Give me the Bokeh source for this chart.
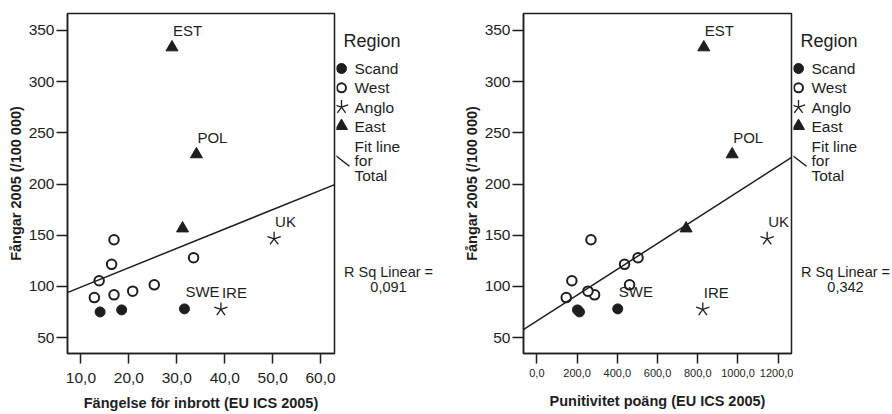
import numpy as np
from bokeh.plotting import figure
from bokeh.layouts import row
from bokeh.models import Range1d, FixedTicker, Slope
from bokeh.core.properties import value
from bokeh.embed import file_html
from bokeh.resources import INLINE

# ---------------- data ----------------
region_names = ["Scand", "West", "Anglo", "East"]

country_label = ["EST", "POL", "", "UK", "IRE", "SWE", "", "",
                 "", "", "", "", "", "", "", ""]
country_region = ["East", "East", "East", "Anglo", "Anglo", "Scand", "Scand", "Scand",
                  "West", "West", "West", "West", "West", "West", "West", "West"]
prisoners_2005 = [333.5, 229.0, 156.6, 146.5, 77.5, 78.0, 75.0, 77.0,
                  89.0, 105.5, 121.5, 145.5, 91.7, 95.3, 101.5, 128.0]
prison_for_burglary = [29.0, 34.1, 31.2, 50.3, 39.2, 31.6, 14.0, 18.5,
                       12.8, 13.8, 16.4, 16.9, 16.9, 20.8, 25.3, 33.5]
punitivity_score = [830, 971, 742, 1145, 825, 402, 212, 202,
                    146, 174, 436, 269, 287, 254, 461, 503]

y_ticks = [50, 100, 150, 200, 250, 300, 350]
x1_ticks = [10, 20, 30, 40, 50, 60]
x1_tick_labels = ["10,0", "20,0", "30,0", "40,0", "50,0", "60,0"]
x2_ticks = [0, 200, 400, 600, 800, 1000, 1200]
x2_tick_labels = ["0,0", "200,0", "400,0", "600,0", "800,0", "1000,0", "1200,0"]

y_title = "Fångar 2005 (/100 000)"
x1_title = "Fängelse för inbrott (EU ICS 2005)"
x2_title = "Punitivitet poäng (EU ICS 2005)"
r2_text_1 = "0,091"
r2_text_2 = "0,342"

# ---------------- style ----------------
FONT = "Liberation Sans"
H = 414
INK = "#1e1e1e"


def make_panel(xs, x_range, ticks, tick_labels, title, width, border_left,
               tick_font_size, tick_standoff, xlab_standoff, ylab_standoff):
    p = figure(width=width, height=H, x_range=Range1d(*x_range), y_range=Range1d(34.4, 366.6),
               output_backend="svg", toolbar_location=None,
               min_border_left=border_left, min_border_right=2,
               min_border_top=13, min_border_bottom=61)
    p.background_fill_color = "white"
    p.border_fill_color = "white"
    p.outline_line_color = INK
    p.outline_line_width = 1.5
    p.grid.visible = False

    p.xaxis.ticker = FixedTicker(ticks=ticks)
    p.xaxis.major_label_overrides = {t: l for t, l in zip(ticks, tick_labels)}
    p.yaxis.ticker = FixedTicker(ticks=y_ticks)
    for ax in (p.xaxis, p.yaxis):
        ax.axis_line_color = INK
        ax.axis_line_width = 1.5
        ax.major_tick_line_color = INK
        ax.major_tick_line_width = 1.5
        ax.major_tick_in = 0
        ax.minor_tick_line_color = None
        ax.major_label_text_color = INK
        ax.major_label_text_font = FONT
        ax.axis_label_text_color = INK
        ax.axis_label_text_font_style = "bold"
        ax.axis_label_text_font = FONT
        ax.axis_label_text_font_size = "14.5px"
    p.xaxis.major_tick_out = 10
    p.yaxis.major_tick_out = 11
    p.xaxis.major_label_text_font_size = tick_font_size
    p.xaxis.major_label_standoff = tick_standoff
    p.yaxis.major_label_text_font_size = "15.5px"
    p.yaxis.major_label_standoff = 2
    p.xaxis.axis_label = title
    p.yaxis.axis_label = y_title
    p.xaxis.axis_label_standoff = xlab_standoff
    p.yaxis.axis_label_standoff = ylab_standoff

    # fit line for total
    m, b = np.polyfit(np.array(xs, float), np.array(prisoners_2005, float), 1)
    p.add_layout(Slope(gradient=m, y_intercept=b, line_color=INK, line_width=1.5))

    def sel(reg):
        idx = [i for i, r in enumerate(country_region) if r == reg]
        return [xs[i] for i in idx], [prisoners_2005[i] for i in idx]

    x, y = sel("Scand")
    p.scatter(x, y, marker="circle", size=10, fill_color=INK, line_color=INK)
    x, y = sel("West")
    p.scatter(x, y, marker="circle", size=9.5, fill_color="white", line_color=INK, line_width=2)
    x, y = sel("East")
    p.scatter(x, y, marker="triangle", size=12, fill_color=INK, line_color=INK)
    x, y = sel("Anglo")
    for ang in (90, 162, 234, 306, 18):
        p.ray(x, y, length=7, length_units="screen", angle=ang, angle_units="deg",
              line_color=INK, line_width=1.3)

    p.text(xs, prisoners_2005, text=country_label, x_offset=1, y_offset=-17,
           text_font=value(FONT), text_font_size="15px", text_align="left",
           text_baseline="middle", text_color=INK)
    return p


def make_legend(width, r2):
    L = figure(width=width, height=H, x_range=Range1d(0, width), y_range=Range1d(0, H),
               output_backend="svg", toolbar_location=None, x_axis_type=None, y_axis_type=None,
               min_border=0)
    L.outline_line_color = None
    L.grid.visible = False
    L.background_fill_color = "white"
    L.border_fill_color = "white"
    mx, tx = 5, 18
    item_y = [67, 90.5, 114, 137]
    L.text([7], [H - 34], text=["Region"], text_font=value(FONT), text_font_size="18px",
           text_baseline="middle", text_color=INK)
    L.scatter([mx], [H - item_y[0]], marker="circle", size=10, fill_color=INK, line_color=INK)
    L.scatter([mx], [H - item_y[1]], marker="circle", size=9, fill_color="white",
              line_color=INK, line_width=2)
    for ang in (90, 162, 234, 306, 18):
        L.ray([mx], [H - item_y[2]], length=7, length_units="screen", angle=ang,
              angle_units="deg", line_color=INK, line_width=1.3)
    L.scatter([mx], [H - item_y[3]], marker="triangle", size=12, fill_color=INK, line_color=INK)
    L.text([tx] * 4, [H - v for v in item_y], text=region_names, text_font=value(FONT),
           text_font_size="15.5px", text_baseline="middle", text_color=INK)
    L.line([-2, 13], [H - 172, H - 186], line_color=INK, line_width=1.5)
    L.text([tx] * 3, [H - 162, H - 179.5, H - 197], text=["Fit line", "for", "Total"],
           text_font=value(FONT), text_font_size="15.5px", text_baseline="middle",
           text_color=INK)
    L.text([52, 52], [H - 315, H - 333], text=["R Sq Linear =", r2], text_font=value(FONT),
           text_font_size="14.5px", text_baseline="middle", text_align="center",
           text_color=INK)
    return L


p1 = make_panel(prison_for_burglary, (7.2, 62.9), x1_ticks, x1_tick_labels, x1_title,
                336, 67, "15.5px", 9, 9, 2)
l1 = make_legend(110, r2_text_1)
p2 = make_panel(punitivity_score, (-66.4, 1266.0), x2_ticks, x2_tick_labels, x2_title,
                347, 77, "11px", 5, 13, 2)
l2 = make_legend(99, r2_text_2)

layout = row(p1, l1, p2, l2, spacing=0)
open("out.html", "w").write(file_html(layout, INLINE))
